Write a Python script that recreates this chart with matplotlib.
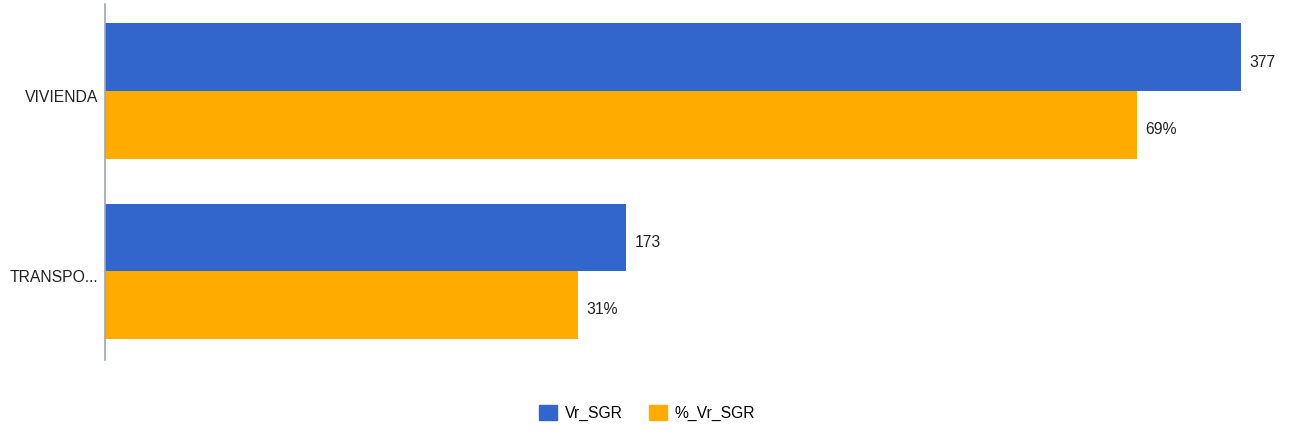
import matplotlib
matplotlib.use("Agg")
import matplotlib.pyplot as plt
import matplotlib.transforms as mtransforms
from matplotlib.patches import Patch

categories = ["VIVIENDA", "TRANSPO..."]
vr_sgr = [377, 173]
pct_vr_sgr = [68.6, 31.45]
series_names = ["Vr_SGR", "%_Vr_SGR"]
colors = ["#3366cc", "#ffab00"]

plt.rcParams['font.family'] = ['Liberation Sans', 'DejaVu Sans']
FS = 11.3
W, H = 1290, 434
fig = plt.figure(figsize=(W/100, H/100), dpi=100)
left, right, top, bottom = 105, 1290, 4, 360
ax = fig.add_axes([left/W, 1-bottom/H, (right-left)/W, (bottom-top)/H])
ax2 = ax.twiny()

px_w = right - left
ax.set_xlim(0, 377 * px_w / 1136)
ax2.set_xlim(0, 68.6 * px_w / 1032)
ax.set_ylim(1.494, -0.483)

ys = list(range(len(categories)))
h = 0.375
ax.barh([y - h/2 for y in ys], vr_sgr, height=h, color=colors[0])
ax2.barh([y + h/2 for y in ys], pct_vr_sgr, height=h, color=colors[1])

for y, v in zip(ys, vr_sgr):
    ax.annotate(f"{v}", (v, y - h/2), xytext=(6, -3.5), textcoords="offset points",
                va="center", ha="left", fontsize=FS, color="#222222")
for y, v in zip(ys, pct_vr_sgr):
    ax2.annotate(f"{v:.0f}%", (v, y + h/2), xytext=(6, -3.5), textcoords="offset points",
                 va="center", ha="left", fontsize=FS, color="#222222")

ax.set_yticks(ys)
ax.set_yticklabels(categories, fontsize=FS, color="#222222")
ax.tick_params(axis="y", length=0, pad=5)
off = mtransforms.ScaledTranslation(0, -3.5/72, fig.dpi_scale_trans)
for lab in ax.get_yticklabels():
    lab.set_transform(lab.get_transform() + off)
for a in (ax, ax2):
    a.set_xticks([])
    for s in ("top", "right", "bottom", "left"):
        a.spines[s].set_visible(False)
ax.spines["left"].set_visible(True)
ax.spines["left"].set_color("#a0a4b8")
ax.spines["left"].set_linewidth(1.2)
ax.set_zorder(1)
ax.patch.set_visible(False)
ax2.set_zorder(0)

handles = [Patch(color=c, label=n) for c, n in zip(colors, series_names)]
fig.legend(handles=handles, loc="center", bbox_to_anchor=(647/W, 1-413/H),
           ncol=2, frameon=False, fontsize=FS, handlelength=1.15, handleheight=1.15,
           handletextpad=0.45, columnspacing=1.7)

fig.savefig("out.png", dpi=100)
